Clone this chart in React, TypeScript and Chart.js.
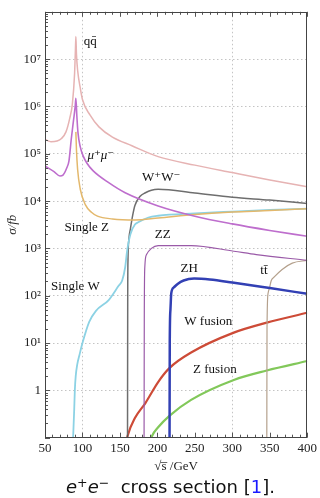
import React, { useEffect, useRef } from "react";
import { Chart, registerables } from "chart.js";

Chart.register(...registerables);

// ---- axis ticks ----
const xTickValues = [50, 100, 150, 200, 250, 300, 350, 400];
const xGridValues = [100, 300];
const yTickValues = [0.1, 1, 10, 100, 1e3, 1e4, 1e5, 1e6, 1e7, 1e8];
const yTickLabels = ["", "1", "10¹", "10²", "10³", "10⁴", "10⁵", "10⁶", "10⁷", ""];

// ---- series (sqrt(s) in GeV, sigma in fb) ----
const qqX = [50, 58, 66, 72, 78, 83, 86.5, 89.5, 90.6, 91.2, 92, 93.7, 97, 100, 110, 122, 140, 166, 201, 250, 300, 350, 400];
const qqY = [2.0e5, 1.8e5, 1.86e5, 2.1e5, 2.9e5, 5.6e5, 1.12e6, 5.0e6, 1.6e7, 3.0e7, 1.26e7, 5.5e6, 2.5e6, 1.4e6, 6.6e5, 3.7e5, 2.24e5, 1.48e5, 8.7e4, 5.75e4, 4.0e4, 2.8e4, 2.0e4];

const mumuX = [50, 62, 70, 74, 79, 82, 85, 88, 90.3, 91.2, 92.5, 94, 97, 101, 106, 114, 135, 157, 201, 250, 300, 350, 400];
const mumuY = [5.5e4, 4.2e4, 3.4e4, 3.55e4, 5.0e4, 7.1e4, 2.0e5, 5.0e5, 1.0e6, 1.48e6, 6.3e5, 2.8e5, 1.41e5, 8.9e4, 6.3e4, 4.4e4, 2.45e4, 1.5e4, 7.9e3, 4.8e3, 3.3e3, 2.4e3, 1.8e3];

const singleZX = [91.2, 92, 93.5, 97, 104, 112, 120, 140, 170, 201, 250, 300, 350, 400];
const singleZY = [2.9e5, 1.2e5, 4.7e4, 1.8e4, 8.3e3, 5.8e3, 4.8e3, 4.2e3, 4.0e3, 4.4e3, 5.2e3, 5.9e3, 6.3e3, 6.9e3];

const singleWX = [87.5, 89, 89.8, 91, 93, 96, 100, 109, 118, 135, 148, 153, 157, 159.5, 164, 170, 175, 188, 201, 250, 300, 350, 400];
const singleWY = [0.1, 0.4, 1.0, 2.0, 3.5, 5.6, 10, 28, 48, 81, 160, 210, 400, 870, 2.0e3, 3.2e3, 3.6e3, 4.5e3, 4.9e3, 5.5e3, 6.0e3, 6.5e3, 6.9e3];

const wwX = [160.1, 160.4, 160.8, 162, 164, 167, 170, 177, 184, 192, 201, 250, 300, 350, 400];
const wwY = [0.05, 100, 600, 1.6e3, 2.6e3, 5.0e3, 8.1e3, 1.26e4, 1.5e4, 1.7e4, 1.78e4, 1.48e4, 1.2e4, 1.05e4, 8.9e3];

const zzX = [182.2, 182.5, 183.2, 185.5, 192, 201, 245, 302, 332, 400];
const zzY = [0.05, 30, 400, 740, 1.0e3, 1.15e3, 1.15e3, 870, 740, 560];

const zhX = [216.2, 216.5, 217.4, 218.5, 222, 227, 235, 249, 270, 300, 350, 400];
const zhY = [0.05, 10, 50, 112, 150, 178, 210, 230, 220, 190, 145, 110];

const ttX = [346, 346.3, 347.7, 349.5, 352, 356, 366.5, 380, 400];
const ttY = [0.05, 20, 112, 145, 210, 250, 360, 490, 560];

const wFusionX = [157, 160.3, 170, 184, 201, 216, 245, 302, 346, 400];
const wFusionY = [0.06, 0.11, 0.26, 0.54, 1.5, 2.95, 6.3, 16.6, 27, 43.6];

const zFusionX = [190, 192.3, 201, 216, 245, 302, 346, 400];
const zFusionY = [0.08, 0.105, 0.166, 0.29, 0.63, 1.66, 2.63, 4.17];

const seriesNames = ["qq̄", "μ⁺μ⁻", "Single Z", "Single W", "W⁺W⁻", "ZZ", "ZH", "tt̄", "W fusion", "Z fusion"];
const seriesX = [qqX, mumuX, singleZX, singleWX, wwX, zzX, zhX, ttX, wFusionX, zFusionX];
const seriesY = [qqY, mumuY, singleZY, singleWY, wwY, zzY, zhY, ttY, wFusionY, zFusionY];
const seriesColors = ["#e6b3b3", "#be6ecd", "#e3b86c", "#8cd2e4", "#6e6e6e", "#9a5aa8", "#3240b4", "#b4a08c", "#cd4b37", "#82c85a"];
const seriesWidths = [1.5, 1.6, 1.5, 1.8, 1.5, 1.2, 2.5, 1.2, 2.2, 2.2];

// ---- in-plot labels (anchored in data coordinates) ----
const labelTexts = ["qq̄", "μ⁺μ⁻", "W⁺W⁻", "Single Z", "ZZ", "Single W", "ZH", "tt̄", "W fusion", "Z fusion"];
const labelX = [110.4, 124.5, 205, 105.8, 207, 90.7, 242.4, 342.2, 268, 276.6];
const labelY = [2.4e7, 9.1e4, 3.1e4, 2.75e3, 1.95e3, 158, 372, 340, 29, 2.7];
const labelItalic = [false, true, false, false, false, false, false, false, false, false];

const SERIF = '"Liberation Serif", "DejaVu Serif", serif';

const framePlugin = {
  id: "frameAndLabels",
  afterDatasetsDraw(chart: any) {
    const { ctx, chartArea, scales } = chart;
    const { left, right, top, bottom } = chartArea;
    const xs = scales.x;
    const ys = scales.y;
    ctx.save();
    // minor/major ticks inside
    ctx.strokeStyle = "#555";
    ctx.lineWidth = 1;
    ctx.beginPath();
    for (let v = 50; v <= 400; v += 10) {
      const px = Math.round(xs.getPixelForValue(v)) + 0.5;
      const len = v % 50 === 0 ? 5 : 3;
      ctx.moveTo(px, bottom);
      ctx.lineTo(px, bottom - len);
      ctx.moveTo(px, top);
      ctx.lineTo(px, top + len);
    }
    for (let d = -1; d <= 7; d++) {
      for (let m = 1; m <= 9; m++) {
        const v = m * Math.pow(10, d);
        if (v < 0.1 || v > 1e8) continue;
        const py = Math.round(ys.getPixelForValue(v)) + 0.5;
        const len = m === 1 ? 5 : 3;
        ctx.moveTo(left, py);
        ctx.lineTo(left + len, py);
      }
    }
    ctx.stroke();
    // frame
    ctx.strokeStyle = "#444";
    ctx.lineWidth = 1;
    ctx.strokeRect(Math.round(left) + 0.5, Math.round(top) + 0.5, Math.round(right - left) - 1, Math.round(bottom - top) - 1);
    // labels
    ctx.fillStyle = "#111";
    ctx.textAlign = "center";
    ctx.textBaseline = "middle";
    for (let i = 0; i < labelTexts.length; i++) {
      ctx.font = (labelItalic[i] ? "italic " : "") + "13px " + SERIF;
      ctx.fillText(labelTexts[i], xs.getPixelForValue(labelX[i]), ys.getPixelForValue(labelY[i]));
    }
    ctx.restore();
  },
};

export default function App() {
  const canvasRef = useRef<HTMLCanvasElement | null>(null);

  useEffect(() => {
    if (!canvasRef.current) return;
    Chart.defaults.font.family = SERIF;
    const datasets = seriesNames.map((name, i) => ({
      label: name,
      data: seriesX[i].map((x, j) => ({ x, y: seriesY[i][j] })),
      borderColor: seriesColors[i],
      backgroundColor: seriesColors[i],
      borderWidth: seriesWidths[i],
      pointRadius: 0,
      fill: false,
      cubicInterpolationMode: "monotone" as const,
      clip: 0,
    }));
    const chart = new Chart(canvasRef.current, {
      type: "line",
      data: { datasets },
      plugins: [framePlugin],
      options: {
        animation: false,
        responsive: true,
        maintainAspectRatio: false,
        layout: { padding: { top: 6, right: 8, left: 0, bottom: 0 } },
        plugins: { legend: { display: false }, tooltip: { enabled: false } },
        scales: {
          x: {
            type: "linear",
            min: 50,
            max: 400,
            afterBuildTicks: (scale: any) => {
              scale.ticks = xTickValues.map((v) => ({ value: v }));
            },
            afterFit: (scale: any) => {
              scale.height = 40.3;
            },
            ticks: {
              autoSkip: false,
              maxRotation: 0,
              padding: 3,
              color: "#222",
              font: { size: 13, family: SERIF },
              callback: (v: any) => String(v),
            },
            grid: {
              drawTicks: false,
              color: (ctx: any) => (ctx.tick && xGridValues.includes(ctx.tick.value) ? "#c4c4c4" : "rgba(0,0,0,0)"),
              lineWidth: 1,
            },
            border: { display: false, dash: [1.5, 2.5] },
            title: {
              display: true,
              text: "√s̅ /GeV",
              color: "#222",
              font: { size: 13, family: SERIF },
              padding: { top: 0, bottom: 3.5 },
            },
          },
          y: {
            type: "logarithmic",
            min: 0.1,
            max: 1e8,
            afterBuildTicks: (scale: any) => {
              scale.ticks = yTickValues.map((v) => ({ value: v }));
            },
            afterFit: (scale: any) => {
              scale.width = 45;
            },
            ticks: {
              autoSkip: false,
              padding: 4,
              color: "#222",
              font: { size: 13, family: SERIF },
              callback: (v: any) => {
                const idx = yTickValues.findIndex((t) => Math.abs(t - v) / t < 1e-6);
                return idx >= 0 ? yTickLabels[idx] : "";
              },
            },
            grid: {
              drawTicks: false,
              color: (ctx: any) => {
                const v = ctx.tick ? ctx.tick.value : 0;
                return v >= 0.99 && v <= 1.01e7 ? "#c4c4c4" : "rgba(0,0,0,0)";
              },
              lineWidth: 1,
            },
            border: { display: false, dash: [1.5, 2.5] },
            title: {
              display: true,
              text: "σ/fb",
              color: "#222",
              font: { size: 13, family: SERIF, style: "italic" },
              padding: { top: 5, bottom: 0 },
            },
          },
        },
      },
    });
    return () => chart.destroy();
  }, []);

  return (
    <div style={{ position: "fixed", left: 0, top: 0, width: 320, height: 498, background: "#fff" }}>
      <div style={{ position: "absolute", left: 0, top: 0, width: 320, height: 478 }}>
        <canvas ref={canvasRef} />
      </div>
      <div
        style={{
          position: "absolute",
          left: 66,
          top: 477,
          whiteSpace: "pre",
          fontFamily: '"DejaVu Sans", sans-serif',
          fontSize: 18,
          color: "#111",
          lineHeight: "20px",
        }}
      >
        <span style={{ fontStyle: "italic" }}>e</span>
        <sup style={{ fontSize: "0.7em", verticalAlign: "0.45em", lineHeight: 0 }}>+</sup>
        <span style={{ fontStyle: "italic" }}>e</span>
        <sup style={{ fontSize: "0.7em", verticalAlign: "0.45em", lineHeight: 0 }}>−</sup>
        {"  cross section ["}
        <span style={{ color: "#1a1aff" }}>1</span>
        {"]."}
      </div>
    </div>
  );
}
